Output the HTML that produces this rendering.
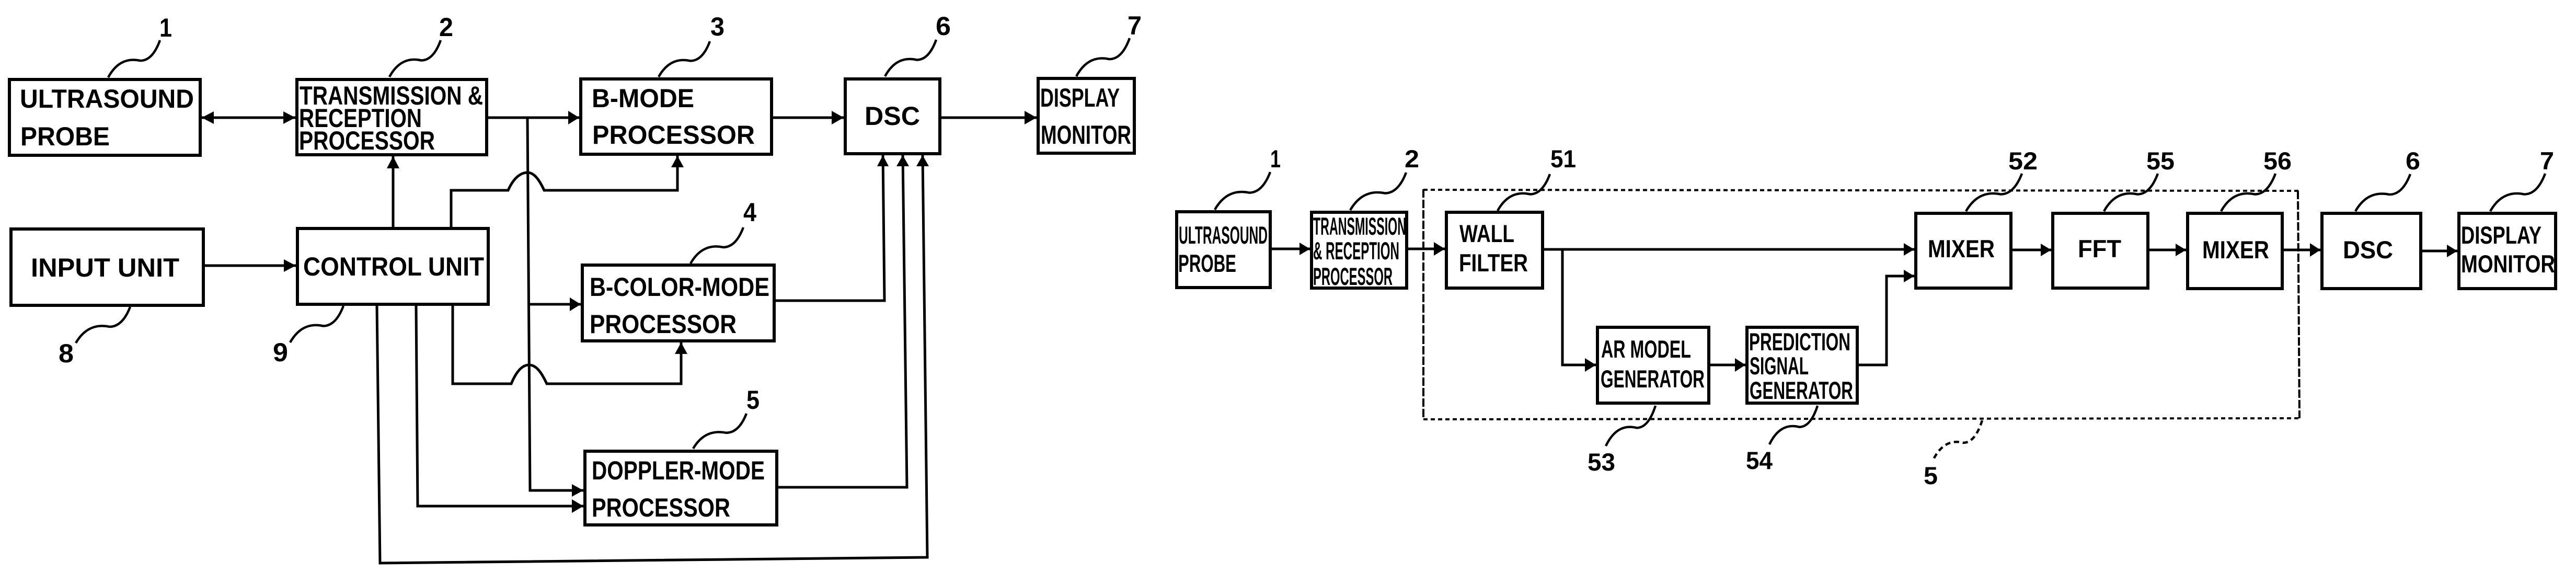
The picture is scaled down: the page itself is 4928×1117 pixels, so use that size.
<!DOCTYPE html>
<html><head><meta charset="utf-8"><title>Ultrasound block diagrams</title>
<style>
html,body{margin:0;padding:0;background:#fff;width:4928px;height:1117px;overflow:hidden}
svg{display:block}
rect{fill:#fff;stroke:#000;stroke-width:6}
.l{fill:none;stroke:#000;stroke-width:5;stroke-linejoin:miter}
.c{fill:none;stroke:#000;stroke-width:4.5;vector-effect:non-scaling-stroke}
.d{stroke-dasharray:10 7}
polygon{fill:#000}
text{font-family:"Liberation Sans",sans-serif;font-weight:bold;fill:#000;font-size:50px}
.r text{font-size:47px}
</style></head><body>
<svg width="4928" height="1117" viewBox="0 0 4928 1117" xmlns="http://www.w3.org/2000/svg">
<!-- LEFT: connectors -->
<path class="l" d="M386 225H565M934 225H1108M1801 225H1983M1479 225H1614M392 508H566"/>
<path class="l" d="M752 434V299"/>
<path class="l" d="M1009 225L1014 938H1116M1011 582H1111"/>
<path class="l" d="M863 434V364H972C985 335 1000 330 1009 330C1020 330 1030 340 1041 364H1296V298"/>
<path class="l" d="M866 585V734H978C990 705 1002 698 1012 698C1024 698 1034 708 1046 734H1303V655"/>
<path class="l" d="M796 585L799 968H1116"/>
<path class="l" d="M721 585L727 1077L1774 1066L1765 297"/>
<path class="l" d="M1484 575H1692L1689 297"/>
<path class="l" d="M1489 932H1735L1727 297"/>
<!-- LEFT: arrowheads -->
<polygon points="386,225 409,213 409,237"/><polygon points="565,225 542,213 542,237"/>
<polygon points="1108,225 1087,212 1087,238"/><polygon points="1614,225 1591,212 1591,238"/>
<polygon points="1983,225 1960,212 1960,238"/><polygon points="566,508 543,496 543,520"/>
<polygon points="752,299 740,322 764,322"/><polygon points="1296,298 1284,320 1308,320"/>
<polygon points="1303,655 1291,677 1315,677"/><polygon points="1111,582 1090,569 1090,595"/>
<polygon points="1116,938 1094,926 1094,950"/><polygon points="1116,968 1094,955 1094,981"/>
<polygon points="1689,297 1678,318 1700,318"/><polygon points="1727,297 1715,318 1739,318"/>
<polygon points="1765,297 1753,318 1777,318"/>
<!-- LEFT: boxes -->
<rect x="18" y="152" width="365" height="145"/><rect x="568" y="152" width="363" height="144"/>
<rect x="1111" y="151" width="365" height="144"/><rect x="1617" y="151" width="181" height="143"/>
<rect x="1986" y="150" width="184" height="143"/><rect x="21" y="438" width="368" height="146"/>
<rect x="569" y="437" width="365" height="145"/><rect x="1114" y="507" width="367" height="145"/>
<rect x="1119" y="863" width="367" height="141"/>
<!-- LEFT: box text -->
<text x="38" y="206" textLength="333" lengthAdjust="spacingAndGlyphs">ULTRASOUND</text>
<text x="39" y="278" textLength="171" lengthAdjust="spacingAndGlyphs">PROBE</text>
<text x="573" y="200" textLength="351" lengthAdjust="spacingAndGlyphs">TRANSMISSION &amp;</text>
<text x="572" y="243" textLength="235" lengthAdjust="spacingAndGlyphs">RECEPTION</text>
<text x="572" y="286" textLength="260" lengthAdjust="spacingAndGlyphs">PROCESSOR</text>
<text x="59" y="529" textLength="284" lengthAdjust="spacingAndGlyphs">INPUT UNIT</text>
<text x="580" y="527" textLength="346" lengthAdjust="spacingAndGlyphs">CONTROL UNIT</text>
<text x="1132" y="205" textLength="196" lengthAdjust="spacingAndGlyphs">B-MODE</text>
<text x="1133" y="275" textLength="311" lengthAdjust="spacingAndGlyphs">PROCESSOR</text>
<text x="1654" y="239" textLength="106" lengthAdjust="spacingAndGlyphs">DSC</text>
<text x="1990" y="204" textLength="152" lengthAdjust="spacingAndGlyphs">DISPLAY</text>
<text x="1991" y="275" textLength="173" lengthAdjust="spacingAndGlyphs">MONITOR</text>
<text x="1128" y="566" textLength="344" lengthAdjust="spacingAndGlyphs">B-COLOR-MODE</text>
<text x="1128" y="637" textLength="281" lengthAdjust="spacingAndGlyphs">PROCESSOR</text>
<text x="1132" y="917" textLength="331" lengthAdjust="spacingAndGlyphs">DOPPLER-MODE</text>
<text x="1132" y="988" textLength="265" lengthAdjust="spacingAndGlyphs">PROCESSOR</text>
<!-- LEFT: leaders -->
<path class="c" transform="translate(306 77) scale(99 71)" d="M0 0C-.08 .31-.2 .55-.38 .55C-.6 .48-.83 .56-1 1"/>
<path class="c" transform="translate(843 77) scale(98 70)" d="M0 0C-.08 .31-.2 .55-.38 .55C-.6 .48-.83 .56-1 1"/>
<path class="c" transform="translate(1358 79) scale(98 68)" d="M0 0C-.08 .31-.2 .55-.38 .55C-.6 .48-.83 .56-1 1"/>
<path class="c" transform="translate(1791 76) scale(98 70)" d="M0 0C-.08 .31-.2 .55-.38 .55C-.6 .48-.83 .56-1 1"/>
<path class="c" transform="translate(2161 73) scale(102 73)" d="M0 0C-.08 .31-.2 .55-.38 .55C-.6 .48-.83 .56-1 1"/>
<path class="c" transform="translate(1422 435) scale(101 69)" d="M0 0C-.08 .31-.2 .55-.38 .55C-.6 .48-.83 .56-1 1"/>
<path class="c" transform="translate(1428 791) scale(102 67)" d="M0 0C-.08 .31-.2 .55-.38 .55C-.6 .48-.83 .56-1 1"/>
<path class="c" transform="translate(249 587) scale(104 69)" d="M0 0C-.08 .31-.2 .55-.38 .55C-.6 .48-.83 .56-1 1"/>
<path class="c" transform="translate(657 585) scale(102 70)" d="M0 0C-.08 .31-.2 .55-.38 .55C-.6 .48-.83 .56-1 1"/>
<!-- LEFT: numerals -->
<text x="305" y="70" textLength="24" lengthAdjust="spacingAndGlyphs">1</text>
<text x="840" y="69" textLength="27" lengthAdjust="spacingAndGlyphs">2</text>
<text x="1359" y="68" textLength="27" lengthAdjust="spacingAndGlyphs">3</text>
<text x="1790" y="67" textLength="29" lengthAdjust="spacingAndGlyphs">6</text>
<text x="2157" y="66" textLength="27" lengthAdjust="spacingAndGlyphs">7</text>
<text x="1422" y="423" textLength="25" lengthAdjust="spacingAndGlyphs">4</text>
<text x="1428" y="782" textLength="25" lengthAdjust="spacingAndGlyphs">5</text>
<text x="112" y="693" textLength="29" lengthAdjust="spacingAndGlyphs">8</text>
<text x="522" y="691" textLength="29" lengthAdjust="spacingAndGlyphs">9</text>

<!-- RIGHT: dashed frame -->
<path fill="none" stroke="#000" stroke-width="4" stroke-dasharray="8 6" d="M2723 363L4397 365M2723 802L4397 800"/>
<path fill="none" stroke="#000" stroke-width="4" stroke-dasharray="16 4" d="M2723 362V802M4396 365L4399 800"/>
<!-- RIGHT: connectors -->
<path class="l" d="M2433 476H2506M2694 476H2764M2954 477H3662M2989 477V698H3053M3272 698H3339M3556 698H3609V528H3662M3850 478H3924M4112 478H4182M4369 478H4439M4634 480H4701"/>
<polygon points="2506,476 2486,464 2486,488"/><polygon points="2764,476 2743,463 2743,489"/>
<polygon points="3053,698 3032,685 3032,711"/><polygon points="3339,698 3319,685 3319,711"/>
<polygon points="3662,477 3642,465 3642,489"/><polygon points="3662,528 3642,516 3642,540"/>
<polygon points="3924,478 3904,466 3904,490"/><polygon points="4182,478 4162,466 4162,490"/>
<polygon points="4439,478 4419,465 4419,491"/><polygon points="4701,480 4681,468 4681,492"/>
<!-- RIGHT: boxes -->
<rect x="2251" y="405" width="179" height="145"/><rect x="2509" y="406" width="182" height="145"/>
<rect x="2767" y="406" width="184" height="145"/><rect x="3056" y="626" width="213" height="145"/>
<rect x="3342" y="626" width="211" height="145"/><rect x="3665" y="408" width="182" height="143"/>
<rect x="3927" y="408" width="182" height="143"/><rect x="4185" y="408" width="181" height="144"/>
<rect x="4442" y="408" width="189" height="144"/><rect x="4704" y="408" width="185" height="144"/>
<!-- RIGHT: text & leaders -->
<g class="r">
<text x="2255" y="466" textLength="170" lengthAdjust="spacingAndGlyphs">ULTRASOUND</text>
<text x="2254" y="520" textLength="111" lengthAdjust="spacingAndGlyphs">PROBE</text>
<text x="2512" y="449" textLength="178" lengthAdjust="spacingAndGlyphs">TRANSMISSION</text>
<text x="2512" y="496" textLength="165" lengthAdjust="spacingAndGlyphs">&amp; RECEPTION</text>
<text x="2512" y="545" textLength="152" lengthAdjust="spacingAndGlyphs">PROCESSOR</text>
<text x="2792" y="463" textLength="105" lengthAdjust="spacingAndGlyphs">WALL</text>
<text x="2791" y="519" textLength="132" lengthAdjust="spacingAndGlyphs">FILTER</text>
<text x="3063" y="684" textLength="172" lengthAdjust="spacingAndGlyphs">AR MODEL</text>
<text x="3062" y="741" textLength="199" lengthAdjust="spacingAndGlyphs">GENERATOR</text>
<text x="3346" y="670" textLength="194" lengthAdjust="spacingAndGlyphs">PREDICTION</text>
<text x="3347" y="716" textLength="113" lengthAdjust="spacingAndGlyphs">SIGNAL</text>
<text x="3347" y="763" textLength="198" lengthAdjust="spacingAndGlyphs">GENERATOR</text>
<text x="3688" y="492" textLength="128" lengthAdjust="spacingAndGlyphs">MIXER</text>
<text x="3975" y="492" textLength="83" lengthAdjust="spacingAndGlyphs">FFT</text>
<text x="4213" y="494" textLength="128" lengthAdjust="spacingAndGlyphs">MIXER</text>
<text x="4482" y="494" textLength="96" lengthAdjust="spacingAndGlyphs">DSC</text>
<text x="4708" y="466" textLength="154" lengthAdjust="spacingAndGlyphs">DISPLAY</text>
<text x="4708" y="521" textLength="180" lengthAdjust="spacingAndGlyphs">MONITOR</text>
<text x="2430" y="320" textLength="20" lengthAdjust="spacingAndGlyphs">1</text>
<text x="2687" y="320" textLength="28" lengthAdjust="spacingAndGlyphs">2</text>
<text x="2966" y="320" textLength="49" lengthAdjust="spacingAndGlyphs">51</text>
<text x="3037" y="900" textLength="53" lengthAdjust="spacingAndGlyphs">53</text>
<text x="3340" y="897" textLength="51" lengthAdjust="spacingAndGlyphs">54</text>
<text x="3680" y="926" textLength="27" lengthAdjust="spacingAndGlyphs">5</text>
<text x="3842" y="324" textLength="56" lengthAdjust="spacingAndGlyphs">52</text>
<text x="4106" y="324" textLength="54" lengthAdjust="spacingAndGlyphs">55</text>
<text x="4330" y="324" textLength="54" lengthAdjust="spacingAndGlyphs">56</text>
<text x="4602" y="324" textLength="28" lengthAdjust="spacingAndGlyphs">6</text>
<text x="4859" y="324" textLength="27" lengthAdjust="spacingAndGlyphs">7</text>
</g>
<path class="c" transform="translate(2430 329) scale(106 72)" d="M0 0C-.08 .31-.2 .55-.38 .55C-.6 .48-.83 .56-1 1"/>
<path class="c" transform="translate(2690 330) scale(107 72)" d="M0 0C-.08 .31-.2 .55-.38 .55C-.6 .48-.83 .56-1 1"/>
<path class="c" transform="translate(2965 333) scale(100 70)" d="M0 0C-.08 .31-.2 .55-.38 .55C-.6 .48-.83 .56-1 1"/>
<path class="c" transform="translate(3167 776) scale(95 77)" d="M0 0C-.08 .31-.2 .55-.38 .55C-.6 .48-.83 .56-1 1"/>
<path class="c" transform="translate(3477 776) scale(92 74)" d="M0 0C-.08 .31-.2 .55-.38 .55C-.6 .48-.83 .56-1 1"/>
<path class="c d" transform="translate(3792 804) scale(95 78)" d="M0 0C-.08 .31-.2 .55-.38 .55C-.6 .48-.83 .56-1 1"/>
<path class="c" transform="translate(3868 332) scale(107 72)" d="M0 0C-.08 .31-.2 .55-.38 .55C-.6 .48-.83 .56-1 1"/>
<path class="c" transform="translate(4128 332) scale(103 72)" d="M0 0C-.08 .31-.2 .55-.38 .55C-.6 .48-.83 .56-1 1"/>
<path class="c" transform="translate(4353 332) scale(104 72)" d="M0 0C-.08 .31-.2 .55-.38 .55C-.6 .48-.83 .56-1 1"/>
<path class="c" transform="translate(4611 333) scale(105 71)" d="M0 0C-.08 .31-.2 .55-.38 .55C-.6 .48-.83 .56-1 1"/>
<path class="c" transform="translate(4869 332) scale(105 72)" d="M0 0C-.08 .31-.2 .55-.38 .55C-.6 .48-.83 .56-1 1"/>
</svg>
</body></html>
